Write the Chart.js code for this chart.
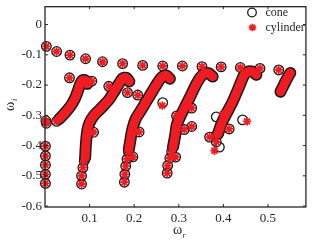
<!DOCTYPE html>
<html>
<head>
<meta charset="utf-8">
<script src="https://cdn.jsdelivr.net/npm/chart.js@4.4.0/dist/chart.umd.min.js"></script>
<style>
  html, body { margin: 0; padding: 0; background: #fff; }
  #wrap { width: 312px; height: 242px; }
</style>
</head>
<body>
<div id="wrap"><canvas id="chart" width="312" height="242"></canvas></div>
<script>
// tick values
const xTicks = [0.1, 0.2, 0.3, 0.4, 0.5];
const yTicks = [-0.6, -0.5, -0.4, -0.3, -0.2, -0.1, 0];

// points shared by both shapes: [omega_r, omega_i]
const topRow = [[0.003,-0.072],[0.026,-0.089],[0.056,-0.101],[0.091,-0.113],[0.129,-0.123],[0.174,-0.129],
  [0.219,-0.135],[0.264,-0.137],[0.308,-0.137],[0.352,-0.139],[0.395,-0.140],[0.438,-0.142],[0.482,-0.145],[0.524,-0.150]];
const leftColumn = [[0.002,-0.318],[0.003,-0.326],[0.026,-0.320],[0.001,-0.402],[0.001,-0.434],[0.001,-0.464],[0.001,-0.495],[0.001,-0.525]];
const loosePoints = [[0.055,-0.176],[0.105,-0.187],[0.143,-0.204],[0.185,-0.225],[0.208,-0.233],
  [0.082,-0.527],[0.082,-0.500],[0.085,-0.473],[0.088,-0.450],[0.109,-0.356],
  [0.178,-0.521],[0.179,-0.495],[0.181,-0.468],[0.184,-0.444],[0.187,-0.420],[0.211,-0.355],[0.197,-0.437],
  [0.274,-0.491],[0.275,-0.466],[0.280,-0.441],[0.284,-0.420],[0.293,-0.438],[0.312,-0.347],[0.329,-0.337],[0.295,-0.302],[0.329,-0.276],
  [0.369,-0.372],[0.384,-0.388],[0.384,-0.366],[0.413,-0.345]];
// dense branches (drawn as thick strokes through the points)
const branch1 = [[0.032,-0.312],[0.046,-0.290],[0.058,-0.268],[0.067,-0.245],[0.074,-0.218],[0.079,-0.196],[0.084,-0.184],[0.090,-0.184],[0.095,-0.196]];
const branch2 = [[0.090,-0.440],[0.092,-0.390],[0.095,-0.350],[0.100,-0.324],[0.109,-0.302],[0.126,-0.276],[0.143,-0.249],[0.155,-0.222],[0.166,-0.195],[0.174,-0.178],[0.182,-0.176],[0.189,-0.188]];
const branch3 = [[0.188,-0.412],[0.192,-0.377],[0.196,-0.345],[0.203,-0.313],[0.214,-0.286],[0.233,-0.240],[0.248,-0.203],[0.261,-0.176],[0.272,-0.168],[0.280,-0.179]];
const branch4 = [[0.287,-0.405],[0.292,-0.366],[0.295,-0.334],[0.302,-0.308],[0.314,-0.272],[0.325,-0.240],[0.338,-0.200],[0.348,-0.175],[0.357,-0.162],[0.367,-0.161],[0.376,-0.172]];
const branch5 = [[0.388,-0.361],[0.395,-0.330],[0.402,-0.308],[0.413,-0.277],[0.421,-0.254],[0.436,-0.203],[0.446,-0.168],[0.455,-0.156],[0.465,-0.156],[0.474,-0.166]];
const branch6 = [[0.528,-0.222],[0.537,-0.195],[0.545,-0.172],[0.550,-0.160]];
const branches = [branch1, branch2, branch3, branch4, branch5, branch6];

// points where the two shapes differ
const coneOnly = [[0.264,-0.258],[0.391,-0.405],[0.384,-0.305],[0.443,-0.315]];
const cylinderOnly = [[0.263,-0.268],[0.380,-0.417],[0.399,-0.297],[0.453,-0.320]];

const serif = "'Liberation Serif', 'Times New Roman', serif";
const axisColor = '#262626';
const coneColor = '#1a1a1a';
const red = '#ee1d23';

function toXY(arr) {
    return arr.map(p => ({ x: p[0], y: p[1] }));
}

function coneSet(arr, line) {
    return {
        data: toXY(arr),
        showLine: line,
        borderColor: coneColor,
        borderWidth: line ? 12 : 0,
        borderCapStyle: 'round',
        borderJoinStyle: 'round',
        tension: 0.3,
        pointStyle: 'circle',
        pointRadius: 4.8,
        pointBorderWidth: 1.3,
        pointBorderColor: coneColor,
        pointBackgroundColor: 'rgba(0,0,0,0)',
        clip: false,
        order: 2
    };
}

function cylinderSet(arr, line) {
    return {
        data: toXY(arr),
        showLine: line,
        borderColor: red,
        borderWidth: line ? 9 : 0,
        borderCapStyle: 'round',
        borderJoinStyle: 'round',
        tension: 0.3,
        pointStyle: 'star',
        pointRadius: 4.2,
        pointBorderWidth: 1.8,
        pointBorderColor: red,
        pointBackgroundColor: red,
        clip: false,
        order: 1
    };
}

const datasets = [];
const shared = topRow.concat(leftColumn, loosePoints);
datasets.push(coneSet(shared.concat(coneOnly), false));
datasets.push(cylinderSet(shared.concat(cylinderOnly), false));
branches.forEach(b => {
    datasets.push(coneSet(b, true));
    datasets.push(cylinderSet(b, true));
});

function fmt(v) {
    return v === 0 ? '0' : v.toFixed(1);
}

// frame, inward ticks, axis titles and legend
const decorPlugin = {
    id: 'decor',
    afterDraw(chart) {
        const { ctx, chartArea: a, scales: { x, y } } = chart;
        ctx.save();
        ctx.strokeStyle = axisColor;
        ctx.lineWidth = 1.3;
        ctx.strokeRect(a.left, a.top + 0.6, a.right - a.left, a.bottom - a.top - 0.6);
        ctx.lineWidth = 1;
        ctx.beginPath();
        xTicks.forEach(v => {
            const px = x.getPixelForValue(v);
            ctx.moveTo(px, a.bottom); ctx.lineTo(px, a.bottom - 3);
            ctx.moveTo(px, a.top); ctx.lineTo(px, a.top + 3);
        });
        yTicks.forEach(v => {
            const py = y.getPixelForValue(v);
            ctx.moveTo(a.left, py); ctx.lineTo(a.left + 3, py);
            ctx.moveTo(a.right, py); ctx.lineTo(a.right - 3, py);
        });
        ctx.stroke();

        // x title: omega_r
        ctx.fillStyle = axisColor;
        ctx.textBaseline = 'alphabetic';
        ctx.textAlign = 'left';
        ctx.font = '14px ' + serif;
        ctx.fillText('ω', 173, 234);
        ctx.font = 'italic 8px ' + serif;
        ctx.fillText('r', 182.5, 238);

        // y title: omega_i (rotated)
        ctx.save();
        ctx.translate(14, 111);
        ctx.rotate(-Math.PI / 2);
        ctx.font = '14px ' + serif;
        ctx.fillText('ω', 0, 0);
        ctx.font = 'italic 8px ' + serif;
        ctx.fillText('i', 10, 3);
        ctx.restore();

        // legend
        ctx.lineWidth = 1.3;
        ctx.strokeStyle = coneColor;
        ctx.beginPath();
        ctx.arc(252, 12.5, 4.3, 0, Math.PI * 2);
        ctx.stroke();
        ctx.strokeStyle = red;
        ctx.lineWidth = 1.8;
        ctx.beginPath();
        const cx = 252.5, cy = 27.5, r = 3.8, d = r * Math.SQRT1_2;
        ctx.moveTo(cx - r, cy); ctx.lineTo(cx + r, cy);
        ctx.moveTo(cx, cy - r); ctx.lineTo(cx, cy + r);
        ctx.moveTo(cx - d, cy - d); ctx.lineTo(cx + d, cy + d);
        ctx.moveTo(cx - d, cy + d); ctx.lineTo(cx + d, cy - d);
        ctx.stroke();
        ctx.fillStyle = axisColor;
        ctx.font = '12px ' + serif;
        ctx.textBaseline = 'middle';
        ctx.fillText('cone', 265.5, 13);
        ctx.fillText('cylinder', 265.5, 27.5);
        ctx.restore();
    }
};

new Chart(document.getElementById('chart'), {
    type: 'scatter',
    data: { datasets: datasets },
    options: {
        responsive: false,
        animation: false,
        events: [],
        layout: { padding: { left: 0, right: 2.7, top: 0, bottom: 0 } },
        plugins: {
            legend: { display: false },
            tooltip: { enabled: false }
        },
        scales: {
            x: {
                type: 'linear',
                min: 0,
                max: 0.585,
                grid: { display: false, drawTicks: false },
                border: { display: false },
                afterBuildTicks: s => { s.ticks = xTicks.map(v => ({ value: v })); },
                afterFit: s => { s.height = 35; s.paddingLeft = 0; s.paddingRight = 0; },
                ticks: {
                    font: { family: serif, size: 13 },
                    color: axisColor,
                    padding: 4,
                    maxRotation: 0,
                    callback: v => fmt(v)
                }
            },
            y: {
                type: 'linear',
                min: -0.603,
                max: 0.061,
                grid: { display: false, drawTicks: false },
                border: { display: false },
                afterBuildTicks: s => { s.ticks = yTicks.map(v => ({ value: v })); },
                afterFit: s => { s.width = 45; s.paddingTop = 0; s.paddingBottom = 0; },
                ticks: {
                    font: { family: serif, size: 13 },
                    color: axisColor,
                    padding: 3,
                    callback: v => fmt(v)
                }
            }
        }
    },
    plugins: [decorPlugin]
});
</script>
</body>
</html>
